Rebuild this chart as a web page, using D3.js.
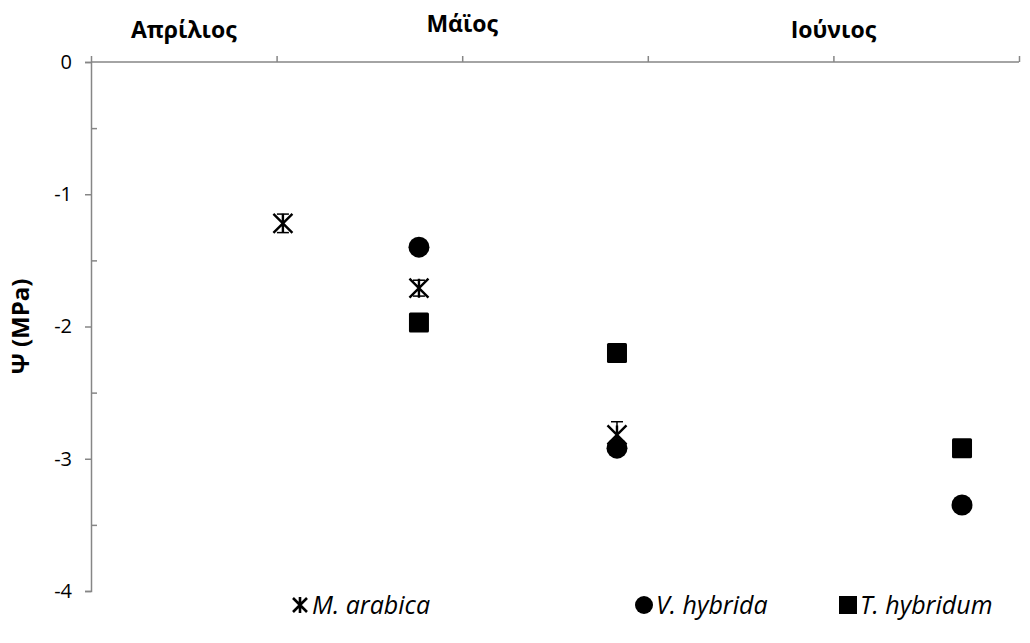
<!DOCTYPE html>
<html>
<head>
<meta charset="utf-8">
<script src="https://cdn.jsdelivr.net/npm/d3@7"></script>
<style>
  html, body { margin: 0; padding: 0; background: #fff; }
  svg { display: block; font-family: "Open Sans", "DejaVu Sans", sans-serif; }
</style>
</head>
<body>
<svg id="chart" width="1030" height="643"></svg>
<script>
// Sampling positions along the season axis (axis units) and water potential (MPa)
const arabicaX = [1.034, 1.767, 2.834];
const arabicaY = [-1.22, -1.71, -2.82];
const arabicaErr = [0.07, 0.06, 0.10];

const hybridaX = [1.767, 2.834, 4.693];
const hybridaY = [-1.40, -2.92, -3.35];

const hybridumX = [1.767, 2.834, 4.693];
const hybridumY = [-1.97, -2.20, -2.92];

const monthLabels = ["Απρίλιος", "Μάϊος", "Ιούνιος"];
const monthPos = [0.5, 2.0, 4.0];
const monthDy = [0, -6, 0];

const yTicks = [0, -1, -2, -3, -4];
const yMinorTicks = [-0.5, -1.5, -2.5, -3.5];
const xTicks = [0, 1, 2, 3, 4, 5];

const seriesNames = ["M. arabica", "V. hybrida", "T. hybridum"];

const svg = d3.select("#chart");
const axisColor = "#868686";

const x = d3.scaleLinear().domain([0, 5]).range([91, 1019]);
const y = d3.scaleLinear().domain([0, -4]).range([62, 591]);

// Left value axis: major ticks outside, minor ticks inside
const yAxis = svg.append("g").attr("transform", `translate(${x(0)},0)`)
  .call(d3.axisLeft(y).tickValues(yTicks).tickSize(6).tickPadding(13).tickFormat(d => String(d)));
yAxis.select(".domain").attr("stroke", axisColor).attr("stroke-width", 1.5);
yAxis.selectAll(".tick line").attr("stroke", axisColor).attr("stroke-width", 1.5);
yAxis.selectAll(".tick text").attr("fill", "#000").attr("font-size", 20)
  .attr("font-family", "'Open Sans', sans-serif");

const yMinor = svg.append("g").attr("transform", `translate(${x(0)},0)`)
  .call(d3.axisRight(y).tickValues(yMinorTicks).tickSize(6).tickFormat(""));
yMinor.select(".domain").remove();
yMinor.selectAll(".tick line").attr("stroke", axisColor).attr("stroke-width", 1.5);

// Top category axis at zero
const xAxis = svg.append("g").attr("transform", `translate(0,${y(0)})`)
  .call(d3.axisTop(x).tickValues(xTicks).tickSize(6).tickFormat(""));
xAxis.select(".domain").attr("stroke", axisColor).attr("stroke-width", 1.5)
  .attr("d", `M${x(0)},0H${x(5)}`);
xAxis.selectAll(".tick line").attr("stroke", axisColor).attr("stroke-width", 1.5);

// Month labels above the top axis
svg.append("g").selectAll("text").data(monthLabels).join("text")
  .attr("x", (d, i) => x(monthPos[i]))
  .attr("y", (d, i) => 38 + monthDy[i])
  .attr("text-anchor", "middle")
  .attr("font-size", 23).attr("font-weight", "bold")
  .text(d => d);

// Y axis title
svg.append("text")
  .attr("transform", `translate(29,${y(-2)}) rotate(-90)`)
  .attr("text-anchor", "middle")
  .attr("font-size", 24).attr("font-weight", "bold")
  .text("Ψ (MPa)");

// Marker shapes
function starPath(s) {
  const h = s / 2;
  return `M${-h},${-h}L${h},${h}M${-h},${h}L${h},${-h}M0,${-h}L0,${h}`;
}

const plot = svg.append("g");

// M. arabica error bars
const arabica = arabicaX.map((d, i) => ({ x: d, y: arabicaY[i], e: arabicaErr[i] }));
const eb = plot.append("g").attr("stroke", "#000").attr("stroke-width", 1.5);
arabica.forEach(d => {
  const cx = x(d.x), y1 = y(d.y + d.e), y2 = y(d.y - d.e);
  eb.append("line").attr("x1", cx).attr("x2", cx).attr("y1", y1).attr("y2", y2);
  eb.append("line").attr("x1", cx - 6).attr("x2", cx + 6).attr("y1", y1).attr("y2", y1);
  eb.append("line").attr("x1", cx - 6).attr("x2", cx + 6).attr("y1", y2).attr("y2", y2);
});
plot.append("g").selectAll("path").data(arabica).join("path")
  .attr("transform", d => `translate(${x(d.x)},${y(d.y)})`)
  .attr("d", starPath(19))
  .attr("fill", "none").attr("stroke", "#000").attr("stroke-width", 2.4);

// V. hybrida circles
const hybrida = hybridaX.map((d, i) => ({ x: d, y: hybridaY[i] }));
plot.append("g").selectAll("circle").data(hybrida).join("circle")
  .attr("cx", d => x(d.x)).attr("cy", d => y(d.y)).attr("r", 10.5)
  .attr("fill", "#000");

// T. hybridum squares
const hybridum = hybridumX.map((d, i) => ({ x: d, y: hybridumY[i] }));
plot.append("g").selectAll("rect").data(hybridum).join("rect")
  .attr("x", d => x(d.x) - 10).attr("y", d => y(d.y) - 10)
  .attr("width", 20).attr("height", 20).attr("rx", 1.5)
  .attr("fill", "#000");

// Legend
const legend = svg.append("g").attr("transform", "translate(0,605)");
const legendX = [300, 644, 848];
seriesNames.forEach((name, i) => {
  const g = legend.append("g").attr("transform", `translate(${legendX[i]},0)`);
  if (i === 0) {
    g.append("path").attr("d", `M-7,-7L7,7M-7,7L7,-7M0,-8L0,8`)
      .attr("stroke", "#000").attr("stroke-width", 2.6).attr("fill", "none");
  } else if (i === 1) {
    g.append("circle").attr("r", 9).attr("fill", "#000");
  } else {
    g.append("rect").attr("x", -9).attr("y", -9).attr("width", 18).attr("height", 18).attr("fill", "#000");
  }
  g.append("text").attr("x", 12).attr("y", 9)
    .attr("font-size", 25).attr("font-style", "italic")
    .text(name);
});
</script>
</body>
</html>
